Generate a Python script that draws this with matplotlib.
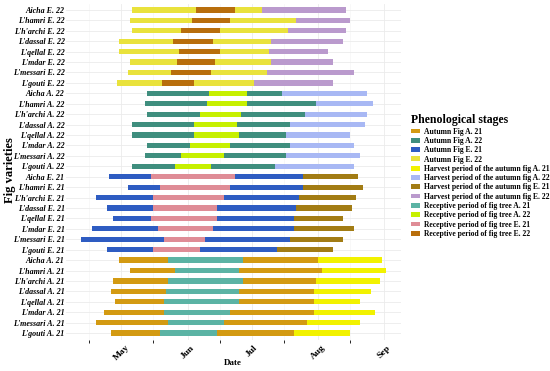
import numpy as np
import matplotlib
matplotlib.use("Agg")
import matplotlib.pyplot as plt
import matplotlib.dates as mdates
from matplotlib.patches import Patch
import datetime as dt

plt.rcParams['font.family'] = ['Liberation Serif', 'DejaVu Serif']

varieties = ["Aicha", "L'hamri", "L'h'archi", "L'dassal", "L'qellal", "L'mdar", "L'messari", "L'gouti"]
# groups from top to bottom of the chart
groups = ["E. 22", "A. 22", "E. 21", "A. 21"]

# autumn fig start, receptive start, receptive end, autumn fig end (= harvest start), harvest end
autumn_start = {
    "E. 22": ["05-06", "05-05", "05-06", "04-30", "04-30", "05-05", "05-04", "04-29"],
    "A. 22": ["05-13", "05-12", "05-13", "05-06", "05-06", "05-13", "05-12", "05-06"],
    "E. 21": ["04-25", "05-04", "04-19", "04-24", "04-27", "04-17", "04-12", "04-24"],
    "A. 21": ["04-30", "05-05", "04-27", "04-26", "04-28", "04-23", "04-19", "04-26"],
}
receptive_start = {
    "E. 22": ["06-05", "06-03", "05-29", "05-25", "05-28", "05-27", "05-24", "05-20"],
    "A. 22": ["06-11", "06-10", "06-07", "06-04", "06-04", "06-02", "05-29", "05-26"],
    "E. 21": ["05-15", "05-19", "05-16", "05-16", "05-15", "05-18", "05-21", "05-16"],
    "A. 21": ["05-23", "05-26", "05-23", "05-22", "05-21", "05-21", "05-23", "05-19"],
}
receptive_end = {
    "E. 22": ["06-23", "06-21", "06-16", "06-13", "06-16", "06-14", "06-12", "06-04"],
    "A. 22": ["06-29", "06-29", "06-26", "06-24", "06-25", "06-21", "06-18", "06-12"],
    "E. 21": ["06-23", "06-21", "06-18", "06-15", "06-15", "06-13", "06-09", "06-07"],
    "A. 21": ["06-27", "06-25", "06-27", "06-25", "06-25", "06-21", "06-18", "06-15"],
}
autumn_end = {
    "E. 22": ["07-06", "07-22", "07-18", "07-10", "07-09", "07-10", "07-08", "07-02"],
    "A. 22": ["07-15", "07-31", "07-26", "07-19", "07-17", "07-19", "07-17", "07-12"],
    "E. 21": ["07-25", "07-25", "07-23", "07-22", "07-21", "07-21", "07-19", "07-13"],
    "A. 21": ["08-01", "08-03", "07-31", "07-30", "07-30", "07-30", "07-27", "07-21"],
}
harvest_end = {
    "E. 22": ["08-14", "08-16", "08-14", "08-13", "08-06", "08-08", "08-18", "08-08"],
    "A. 22": ["08-24", "08-27", "08-24", "08-23", "08-16", "08-18", "08-21", "08-18"],
    "E. 21": ["08-20", "08-22", "08-19", "08-17", "08-13", "08-18", "08-13", "08-08"],
    "A. 21": ["08-31", "09-02", "08-30", "08-26", "08-21", "08-28", "08-21", "08-16"],
}

colors = {
    "Autumn Fig A. 21": "#D39A12",
    "Autumn Fig A. 22": "#3F8E7E",
    "Autumn Fig E. 21": "#2E5CC2",
    "Autumn Fig E. 22": "#E9E23C",
    "Harvest period of the autumn fig A. 21": "#F2F200",
    "Harvest period of the autumn fig A. 22": "#A8B8F4",
    "Harvest period of the autumn fig E. 21": "#A27C14",
    "Harvest period of the autumn fig E. 22": "#BA9ACD",
    "Receptive period of fig tree A. 21": "#5BB3A4",
    "Receptive period of fig tree A. 22": "#C6F000",
    "Receptive period of fig tree E. 21": "#DF8C96",
    "Receptive period of fig tree E. 22": "#B86E0C",
}


def to_num(md):
    m, d = md.split("-")
    return mdates.date2num(dt.date(2022, int(m), int(d)))


fig = plt.figure(figsize=(5.5, 3.71), dpi=100)
ax = fig.add_axes([66 / 550, 1 - 339.5 / 371, 335 / 550, 336 / 371])

labels = []
y = 31
for g in groups:
    for i, v in enumerate(varieties):
        a0 = to_num(autumn_start[g][i])
        r0 = to_num(receptive_start[g][i])
        r1 = to_num(receptive_end[g][i])
        a1 = to_num(autumn_end[g][i])
        h1 = to_num(harvest_end[g][i])
        ax.barh(y, a1 - a0, left=a0, height=0.5, color=colors["Autumn Fig " + g], zorder=3)
        ax.barh(y, r1 - r0, left=r0, height=0.5, color=colors["Receptive period of fig tree " + g], zorder=4)
        ax.barh(y, h1 - a1, left=a1, height=0.5, color=colors["Harvest period of the autumn fig " + g], zorder=3)
        labels.append((y, v + " " + g))
        y -= 1

ax.set_yticks([p for p, _ in labels])
ax.set_yticklabels([t for _, t in labels], fontsize=5.8, fontweight='bold', fontstyle='italic')
ax.set_ylim(-0.62, 31.62)

may1 = to_num("05-01")
ax.set_xlim(may1 - 26, may1 + 131)
ax.xaxis.set_major_locator(mdates.MonthLocator())
ax.xaxis.set_minor_locator(mdates.MonthLocator(bymonthday=16))
ax.xaxis.set_major_formatter(mdates.DateFormatter('%b'))
for lab in ax.get_xticklabels():
    lab.set_rotation(45)
    lab.set_fontsize(6.8)
    lab.set_fontweight('bold')
    lab.set_ha('center')

ax.tick_params(length=0, pad=1)
ax.tick_params(axis='x', pad=3)
ax.grid(True, which='major', color='#EBEBEB', linewidth=0.6, zorder=0)
ax.grid(True, which='minor', axis='x', color='#F3F3F3', linewidth=0.4, zorder=0)
for s in ax.spines.values():
    s.set_visible(False)

fig.text(233 / 550, 1 - 363 / 371, "Date", fontsize=6.5, fontweight='bold',
         ha='center', va='center')
fig.text(10 / 550, 1 - 170 / 371, "Fig varieties", fontsize=9, fontweight='bold',
         rotation=90, ha='center', va='center')

handles = [Patch(facecolor=c, edgecolor='none', label=k) for k, c in colors.items()]
leg = fig.legend(handles=handles, loc='upper left', bbox_to_anchor=(406 / 550, 1 - 109 / 371),
                 frameon=False, title="Phenological stages",
                 prop={'size': 5.5, 'weight': 'bold'},
                 title_fontproperties={'size': 8.5, 'weight': 'bold'},
                 handlelength=1.1, handleheight=0.6, handletextpad=0.5,
                 labelspacing=0.17, borderpad=0.2)
leg._legend_box.align = "left"

fig.savefig("out.png", dpi=100)
